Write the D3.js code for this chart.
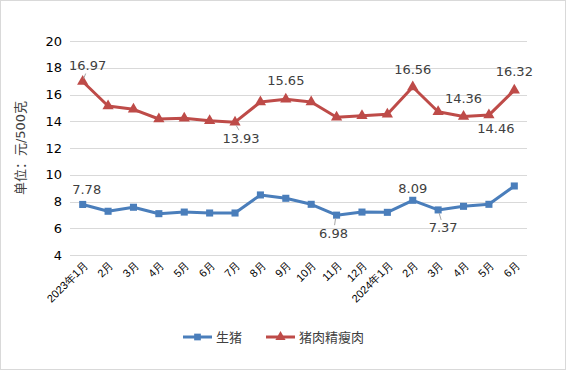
<!DOCTYPE html>
<html lang="zh">
<head>
<meta charset="utf-8">
<title>生猪与猪肉精瘦肉价格</title>
<style>
  body { margin: 0; background: #fff; }
  svg { display: block; font-family: "DejaVu Sans", "Noto Sans CJK SC", sans-serif; }
  .grid line { stroke: #d9d9d9; shape-rendering: crispEdges; }
  .tick text { fill: #000; font-size: 13px; }
  .dlabel { fill: #404040; font-size: 13px; }
  .leader { stroke: #a6a6a6; stroke-width: 1; }
</style>
</head>
<body>
<script src="https://cdn.jsdelivr.net/npm/d3@7/dist/d3.min.js"></script>
<script>
// months
var months = ["2023年1月", "2月", "3月", "4月", "5月", "6月", "7月", "8月", "9月",
              "10月", "11月", "12月", "2024年1月", "2月", "3月", "4月", "5月", "6月"];
var keys = months.map(function(m, i) { return i; });

// 生猪
var hog = [7.78, 7.27, 7.57, 7.09, 7.21, 7.14, 7.14, 8.49, 8.24,
           7.79, 6.98, 7.21, 7.19, 8.09, 7.37, 7.64, 7.79, 9.16];
// 猪肉精瘦肉
var pork = [16.97, 15.14, 14.89, 14.17, 14.22, 14.04, 13.93, 15.44, 15.65,
            15.44, 14.30, 14.42, 14.52, 16.56, 14.71, 14.36, 14.46, 16.32];

var yTicks = [4, 6, 8, 10, 12, 14, 16, 18, 20];
var seriesNames = ["生猪", "猪肉精瘦肉"];

// which points carry a value label
var hogLabelled = [0, 10, 13, 14];
var porkLabelled = [0, 6, 8, 13, 15, 16, 17];

var W = 566, H = 370;
var svg = d3.select("body").append("svg").attr("width", W).attr("height", H);

// outer chart border
svg.append("rect").attr("x", 0.5).attr("y", 0.5)
  .attr("width", W - 1).attr("height", H - 1)
  .attr("fill", "#fff").attr("stroke", "#d9d9d9");

var x = d3.scaleBand().domain(keys).range([70, 527]).padding(0);
var y = d3.scaleLinear().domain([4, 20]).range([255, 41]);
var cx = function(i) { return x(i) + x.bandwidth() / 2; };

// gridlines
svg.append("g").attr("class", "grid")
  .selectAll("line").data(yTicks).enter().append("line")
  .attr("x1", 70).attr("x2", 527)
  .attr("y1", function(d) { return Math.round(y(d)) + 0.5; })
  .attr("y2", function(d) { return Math.round(y(d)) + 0.5; });

// y axis
var yAxis = svg.append("g")
  .attr("transform", "translate(66,0)")
  .call(d3.axisLeft(y).tickValues(yTicks).tickSize(0).tickPadding(4));
yAxis.select(".domain").remove();
yAxis.selectAll("text").style("font-family", "DejaVu Sans");

svg.append("text")
  .attr("transform", "translate(25,148) rotate(-90)")
  .attr("text-anchor", "middle")
  .style("font-size", "13px").style("fill", "#404040")
  .text("单位：元/500克");

// x axis labels
var xAxis = svg.append("g")
  .attr("transform", "translate(0,255)")
  .call(d3.axisBottom(x).tickSize(0).tickFormat(function(i) { return months[i]; }));
xAxis.select(".domain").remove();
xAxis.selectAll("text")
  .attr("text-anchor", "end")
  .attr("dy", null).attr("y", 0)
  .attr("transform", "translate(6,11) rotate(-45)")
  .style("font-size", "11px");

var blue = "#4a7ebb", red = "#be4b48";

function drawSeries(vals, color, marker) {
  var line = d3.line().x(function(d, i) { return cx(i); }).y(function(d) { return y(d); });
  svg.append("path").datum(vals)
    .attr("d", line).attr("fill", "none")
    .attr("stroke", color).attr("stroke-width", 3)
    .attr("stroke-linejoin", "round");
  svg.append("g").selectAll("path").data(vals).enter().append("path")
    .attr("d", d3.symbol().type(marker).size(marker === d3.symbolSquare ? 50 : 55))
    .attr("transform", function(d, i) { return "translate(" + cx(i) + "," + y(d) + ")"; })
    .attr("fill", color);
}

drawSeries(pork, red, d3.symbolTriangle);
drawSeries(hog, blue, d3.symbolSquare);

// data label placement relative to point: [dx, dy, leader]
var porkPlace = { 0: [5, -16, true], 6: [6, 16, true], 8: [0, -19], 13: [0, -18],
                  15: [0, -18], 16: [7, 13], 17: [0, -19] };
var hogPlace = { 0: [4, -15], 10: [-3, 18, true], 13: [0, -12], 14: [5, 18, true] };

function drawLabels(vals, idx, place) {
  idx.forEach(function(i) {
    var p = place[i], px = cx(i), py = y(vals[i]);
    var tx = px + p[0], ty = py + p[1];
    if (p[2]) {
      svg.append("line").attr("class", "leader")
        .attr("x1", px + (p[0] > 0 ? 1 : -1)).attr("y1", py + (p[1] > 0 ? 3 : -3))
        .attr("x2", tx + (p[0] > 0 ? -2 : 1)).attr("y2", ty + (p[1] > 0 ? -8 : 8));
    }
    svg.append("text").attr("class", "dlabel")
      .attr("x", tx).attr("y", ty).attr("dy", "0.35em")
      .attr("text-anchor", "middle")
      .text(vals[i].toFixed(2));
  });
}

drawLabels(pork, porkLabelled, porkPlace);
drawLabels(hog, hogLabelled, hogPlace);

// legend
var legend = svg.append("g").attr("transform", "translate(0,337)");
[[blue, d3.symbolSquare, 183], [red, d3.symbolTriangle, 266]].forEach(function(s, k) {
  legend.append("line").attr("x1", s[2]).attr("x2", s[2] + 29)
    .attr("y1", 0).attr("y2", 0).attr("stroke", s[0]).attr("stroke-width", 3);
  legend.append("path")
    .attr("d", d3.symbol().type(s[1]).size(45))
    .attr("transform", "translate(" + (s[2] + 14.5) + ",0)").attr("fill", s[0]);
  legend.append("text").attr("x", s[2] + 33).attr("y", 0).attr("dy", "0.35em")
    .style("font-size", "13px").style("fill", "#404040")
    .style("font-family", "Noto Sans CJK SC")
    .text(seriesNames[k]);
});
</script>
</body>
</html>
